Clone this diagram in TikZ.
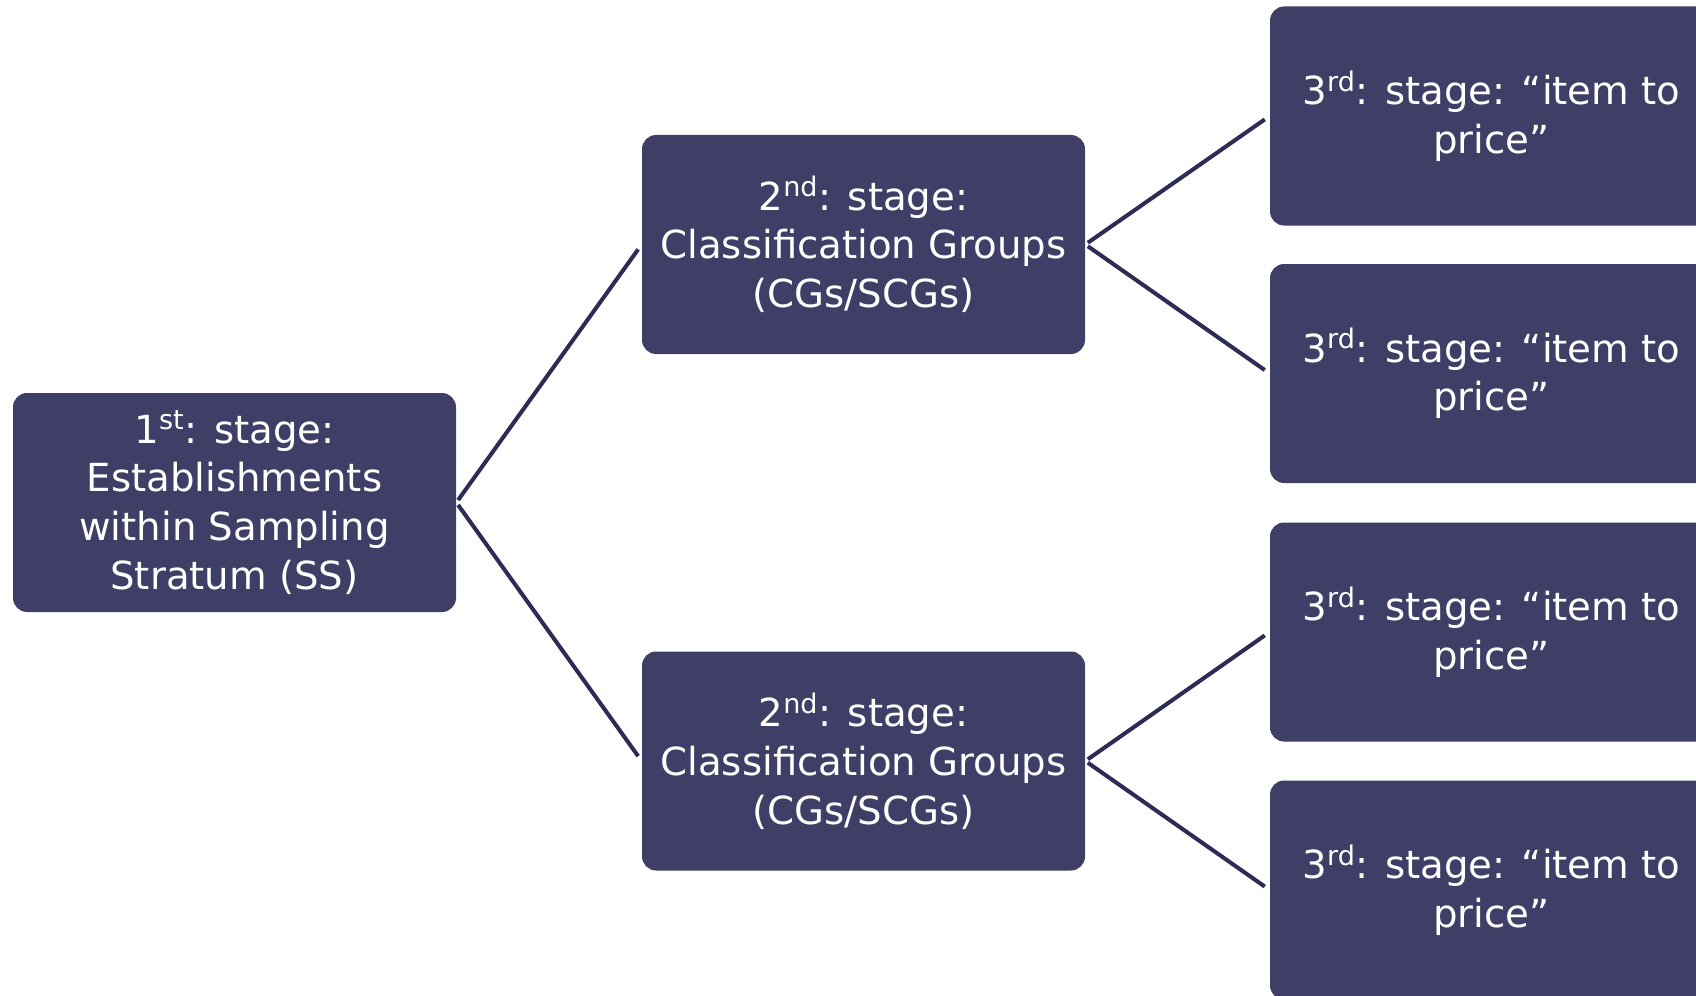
\documentclass[tikz,border=0pt]{standalone}
\usepackage{fontspec}
\setmainfont{DejaVu Sans}
\definecolor{stagefill}{RGB}{62, 62, 102}
\definecolor{stageline}{RGB}{44, 44, 84}
\usetikzlibrary{positioning}

\begin{document}
\begin{tikzpicture}[
  stagebox/.style={fill=stagefill, rounded corners=8pt, minimum width=8.86cm, minimum height=4.38cm, inner sep=0pt, text=white, align=center, font=\fontsize{22}{27.7}\selectfont},
  link/.style={draw=stageline, line width=2.3pt, shorten <=0.06cm, shorten >=0.12cm}
]
  \useasboundingbox (0, 0) rectangle (33.92, -19.92);
  \clip (0, 0) rectangle (33.92, -19.92);

  % first stage
  \node[stagebox] (stage1) at (4.69, -10.05) {1\textsuperscript{st}: stage:\\ Establishments\\ within Sampling\\ Stratum (SS)};

  % second stage
  \node[stagebox] (stage2a) at (17.27, -4.89) {2\textsuperscript{nd}: stage:\\ Classification Groups\\ (CGs/SCGs)};
  \node[stagebox] (stage2b) at (17.27, -15.22) {2\textsuperscript{nd}: stage:\\ Classification Groups\\ (CGs/SCGs)};

  % third stage
  \node[stagebox] (stage3a) at (29.83, -2.32) {3\textsuperscript{rd}: stage: “item to\\ price”};
  \node[stagebox] (stage3b) at (29.83, -7.47) {3\textsuperscript{rd}: stage: “item to\\ price”};
  \node[stagebox] (stage3c) at (29.83, -12.64) {3\textsuperscript{rd}: stage: “item to\\ price”};
  \node[stagebox] (stage3d) at (29.83, -17.80) {3\textsuperscript{rd}: stage: “item to\\ price”};

  \draw[link] (stage1.east) -- (stage2a.west);
  \draw[link] (stage1.east) -- (stage2b.west);
  \draw[link] (stage2a.east) -- (stage3a.west);
  \draw[link] (stage2a.east) -- (stage3b.west);
  \draw[link] (stage2b.east) -- (stage3c.west);
  \draw[link] (stage2b.east) -- (stage3d.west);
\end{tikzpicture}
\end{document}
